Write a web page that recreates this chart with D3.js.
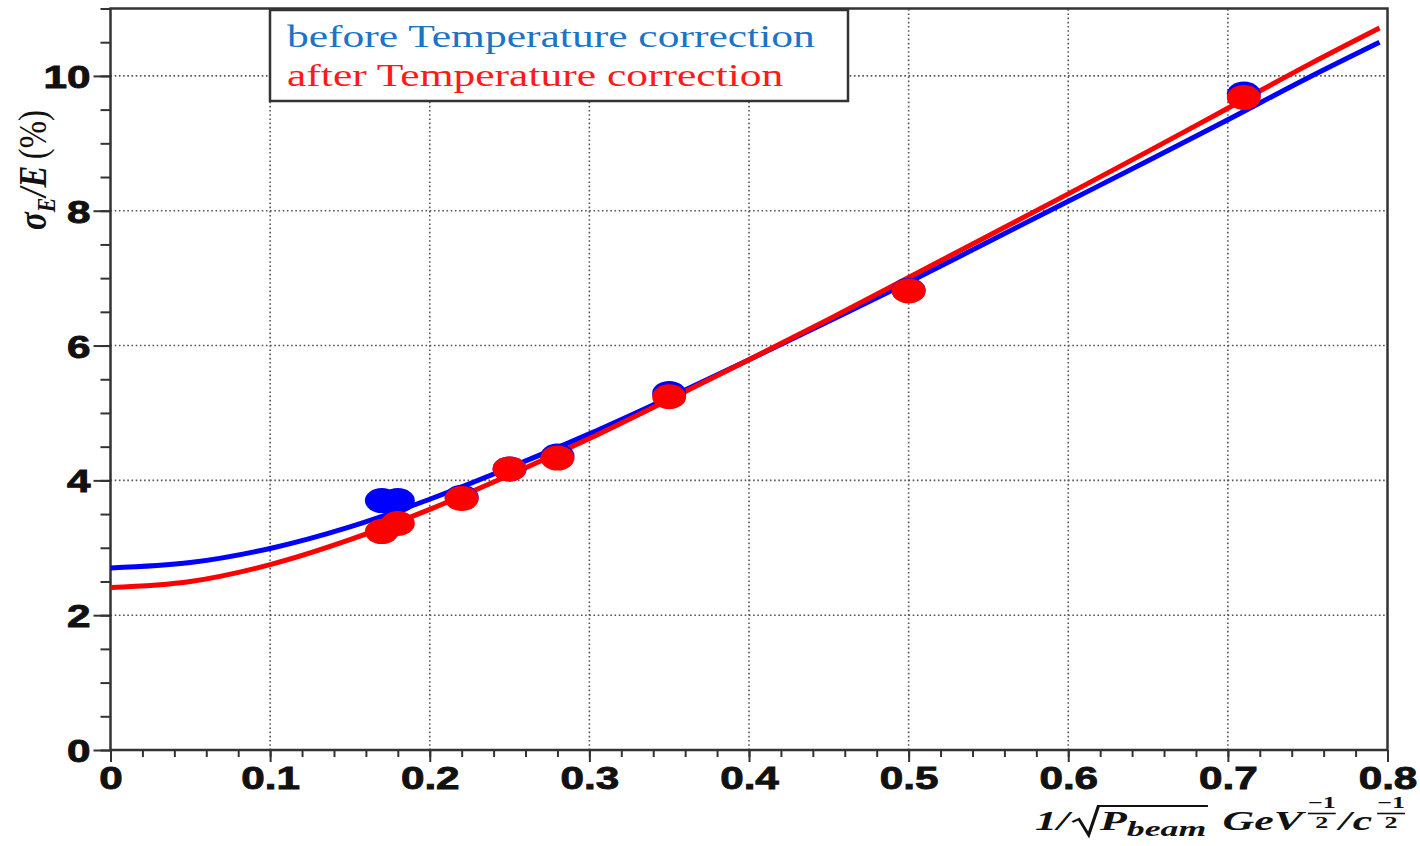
<!DOCTYPE html>
<html>
<head>
<meta charset="utf-8">
<script src="https://cdn.jsdelivr.net/npm/d3@7"></script>
<style>
  body { margin: 0; background: #fff; }
  svg { display: block; }
</style>
</head>
<body>
<svg width="1420" height="846"></svg>
<script>
// measured points: 1/sqrt(P_beam) vs sigma_E/E (%)
var invSqrtP  = [0.17, 0.18, 0.22, 0.25, 0.28, 0.35, 0.50, 0.71];
var resBefore = [3.70, 3.70, 3.75, 4.17, 4.36, 5.29, 6.82, 9.73];
var resAfter  = [3.24, 3.36, 3.73, 4.17, 4.33, 5.24, 6.81, 9.68];

// fit curves
var fitX      = [0, 0.05, 0.1, 0.15, 0.2, 0.25, 0.3, 0.35, 0.4, 0.45, 0.5, 0.55, 0.6, 0.65, 0.7, 0.75, 0.795];
var fitBefore = [2.70, 2.78, 2.99, 3.31, 3.72, 4.19, 4.69, 5.23, 5.79, 6.36, 6.94, 7.54, 8.14, 8.74, 9.35, 9.97, 10.50];
var fitAfter  = [2.41, 2.50, 2.75, 3.12, 3.57, 4.08, 4.62, 5.20, 5.79, 6.39, 7.01, 7.63, 8.25, 8.88, 9.52, 10.16, 10.71];

var xMajor = [0, 0.1, 0.2, 0.3, 0.4, 0.5, 0.6, 0.7, 0.8];
var yMajor = [0, 2, 4, 6, 8, 10];
var legendLabels = ["before Temperature correction", "after Temperature correction"];

var svg = d3.select("svg");
var x = d3.scaleLinear().domain([0, 0.8]).range([110.5, 1387.5]);
var y = d3.scaleLinear().domain([0, 11]).range([750, 8.5]);

// the picture is stretched sideways, so widen text the same way
function widen(sel, k) {
  sel.each(function() {
    var len = this.getComputedTextLength();
    d3.select(this).attr("textLength", len * k).attr("lengthAdjust", "spacingAndGlyphs");
  });
}

// grid
var grid = svg.append("g").attr("stroke", "#555").attr("stroke-width", 1.6).attr("stroke-dasharray", "1.6,2.6");
grid.selectAll(".gx").data(xMajor.filter(d => d > 0 && d < 0.8)).enter().append("line")
  .attr("x1", d => x(d)).attr("x2", d => x(d)).attr("y1", y(0)).attr("y2", y(11));
grid.selectAll(".gy").data(yMajor.filter(d => d > 0)).enter().append("line")
  .attr("y1", d => y(d)).attr("y2", d => y(d)).attr("x1", x(0)).attr("x2", x(0.8));

// minor ticks
var minX = svg.append("g").attr("transform", "translate(0," + y(0) + ")")
  .call(d3.axisBottom(x).tickValues(d3.range(0, 0.8001, 0.02)).tickSize(7).tickFormat(""));
var minY = svg.append("g").attr("transform", "translate(" + x(0) + ",0)")
  .call(d3.axisLeft(y).tickValues(d3.range(0, 11.001, 0.5)).tickSize(10).tickFormat(""));

// major ticks + labels
var majX = svg.append("g").attr("transform", "translate(0," + y(0) + ")")
  .call(d3.axisBottom(x).tickValues(xMajor).tickSize(12).tickPadding(4)
    .tickFormat(d => d === 0 ? "0" : d3.format(".1f")(d)));
var majY = svg.append("g").attr("transform", "translate(" + x(0) + ",0)")
  .call(d3.axisLeft(y).tickValues(yMajor).tickSize(17).tickPadding(3).tickFormat(d3.format("d")));

[minX, minY, majX, majY].forEach(function(a) {
  a.select(".domain").remove();
  a.selectAll(".tick line").attr("stroke", "#333").attr("stroke-width", 2);
});
[majX, majY].forEach(function(a) {
  a.selectAll(".tick text")
    .attr("font-family", "'Liberation Sans', Arial, sans-serif")
    .attr("font-weight", "bold").attr("font-size", 32)
    .attr("fill", "#111").attr("stroke", "#111").attr("stroke-width", 0.9);
  widen(a.selectAll(".tick text"), 1.32);
});
majY.selectAll(".tick text").attr("dy", "0.36em");

// frame
svg.append("rect")
  .attr("x", x(0)).attr("y", y(11)).attr("width", x(0.8) - x(0)).attr("height", y(0) - y(11))
  .attr("fill", "none").attr("stroke", "#333").attr("stroke-width", 2.5);

// fit curves
var line = d3.line().x(d => x(d[0])).y(d => y(d[1])).curve(d3.curveMonotoneX);
svg.append("path").datum(d3.zip(fitX, fitBefore))
  .attr("d", line).attr("fill", "none").attr("stroke", "#0000ff").attr("stroke-width", 5);
svg.append("path").datum(d3.zip(fitX, fitAfter))
  .attr("d", line).attr("fill", "none").attr("stroke", "#ff0000").attr("stroke-width", 5);

// markers
svg.append("g").selectAll("ellipse").data(d3.zip(invSqrtP, resBefore)).enter().append("ellipse")
  .attr("cx", d => x(d[0])).attr("cy", d => y(d[1])).attr("rx", 17).attr("ry", 12.5).attr("fill", "#0000ff");
svg.append("g").selectAll("ellipse").data(d3.zip(invSqrtP, resAfter)).enter().append("ellipse")
  .attr("cx", d => x(d[0])).attr("cy", d => y(d[1])).attr("rx", 17).attr("ry", 12.5).attr("fill", "#ff0000");

// legend
var leg = svg.append("g");
leg.append("rect").attr("x", 270).attr("y", 10).attr("width", 578).attr("height", 91)
  .attr("fill", "#fff").attr("stroke", "#333").attr("stroke-width", 2.5);
leg.selectAll("text").data(legendLabels).enter().append("text")
  .attr("x", 287).attr("y", (d, i) => 47 + i * 39)
  .attr("font-family", "'Liberation Serif', 'Times New Roman', serif").attr("font-size", 32)
  .attr("fill", (d, i) => i === 0 ? "#1c74c6" : "#ff1a1a")
  .text(d => d);
widen(leg.selectAll("text"), 1.36);

// write a run of text pieces one after another
function runText(g, parts, x0) {
  var cx = x0;
  parts.forEach(function(p) {
    var t = g.append("text").attr("x", cx).attr("y", p.dy || 0)
      .attr("font-family", "'Liberation Serif', 'DejaVu Serif', serif")
      .attr("font-size", p.size).attr("font-style", p.italic ? "italic" : "normal")
      .attr("font-weight", p.bold ? "bold" : "normal").attr("fill", "#111").text(p.t);
    cx += t.node().getComputedTextLength() + (p.gap || 0);
  });
  return cx;
}

function supFrac(g, x0) {
  var top = g.append("text").attr("x", x0).attr("y", -22).attr("font-family", "'Liberation Serif', serif")
    .attr("font-size", 16).attr("font-weight", "bold").attr("fill", "#111").text("\u22121");
  var w = top.node().getComputedTextLength();
  g.append("line").attr("x1", x0).attr("x2", x0 + w).attr("y1", -16.5).attr("y2", -16.5)
    .attr("stroke", "#111").attr("stroke-width", 1.6);
  g.append("text").attr("x", x0 + w / 2).attr("y", -2).attr("text-anchor", "middle")
    .attr("font-family", "'Liberation Serif', serif").attr("font-size", 16).attr("font-weight", "bold")
    .attr("fill", "#111").text("2");
  return x0 + w;
}

// x axis title
var xt = svg.append("g");
var cur = runText(xt, [{t: "1/", size: 27, bold: true, italic: true, gap: 2}], 0);
var rx0 = cur;
cur = runText(xt, [
  {t: "P", size: 27, bold: true, italic: true},
  {t: "beam", size: 22, bold: true, italic: true, dy: 6}
], rx0 + 17);
xt.append("path")
  .attr("d", "M" + rx0 + ",-8 L" + (rx0 + 4) + ",-11 L" + (rx0 + 10) + ",5 L" + (rx0 + 16) + ",-24 L" + (cur + 1) + ",-24")
  .attr("fill", "none").attr("stroke", "#111").attr("stroke-width", 2);
cur = runText(xt, [{t: "GeV", size: 27, bold: true, italic: true, gap: 3}], cur + 10);
cur = supFrac(xt, cur);
cur = runText(xt, [{t: "/", size: 27, bold: true, italic: true, gap: 1}, {t: "c", size: 27, bold: true, italic: true, gap: 3}], cur + 2);
cur = supFrac(xt, cur);
var kx = 370 / cur;
xt.attr("transform", "translate(1035,830) scale(" + kx + ",1)");

// y axis title
var yt = svg.append("g");
var ycur = runText(yt, [
  {t: "\u03c3", size: 30, bold: true, italic: true},
  {t: "E", size: 20, bold: true, italic: true, dy: 7, gap: 1},
  {t: "/", size: 30, bold: true, italic: true},
  {t: "E", size: 30, bold: true, italic: true, gap: 6},
  {t: "(%)", size: 30}
], 0);
yt.attr("transform", "translate(46,170) rotate(-90) scale(" + (120 / ycur) + ",1.3) translate(" + (-ycur / 2) + ",0)");
</script>
</body>
</html>
